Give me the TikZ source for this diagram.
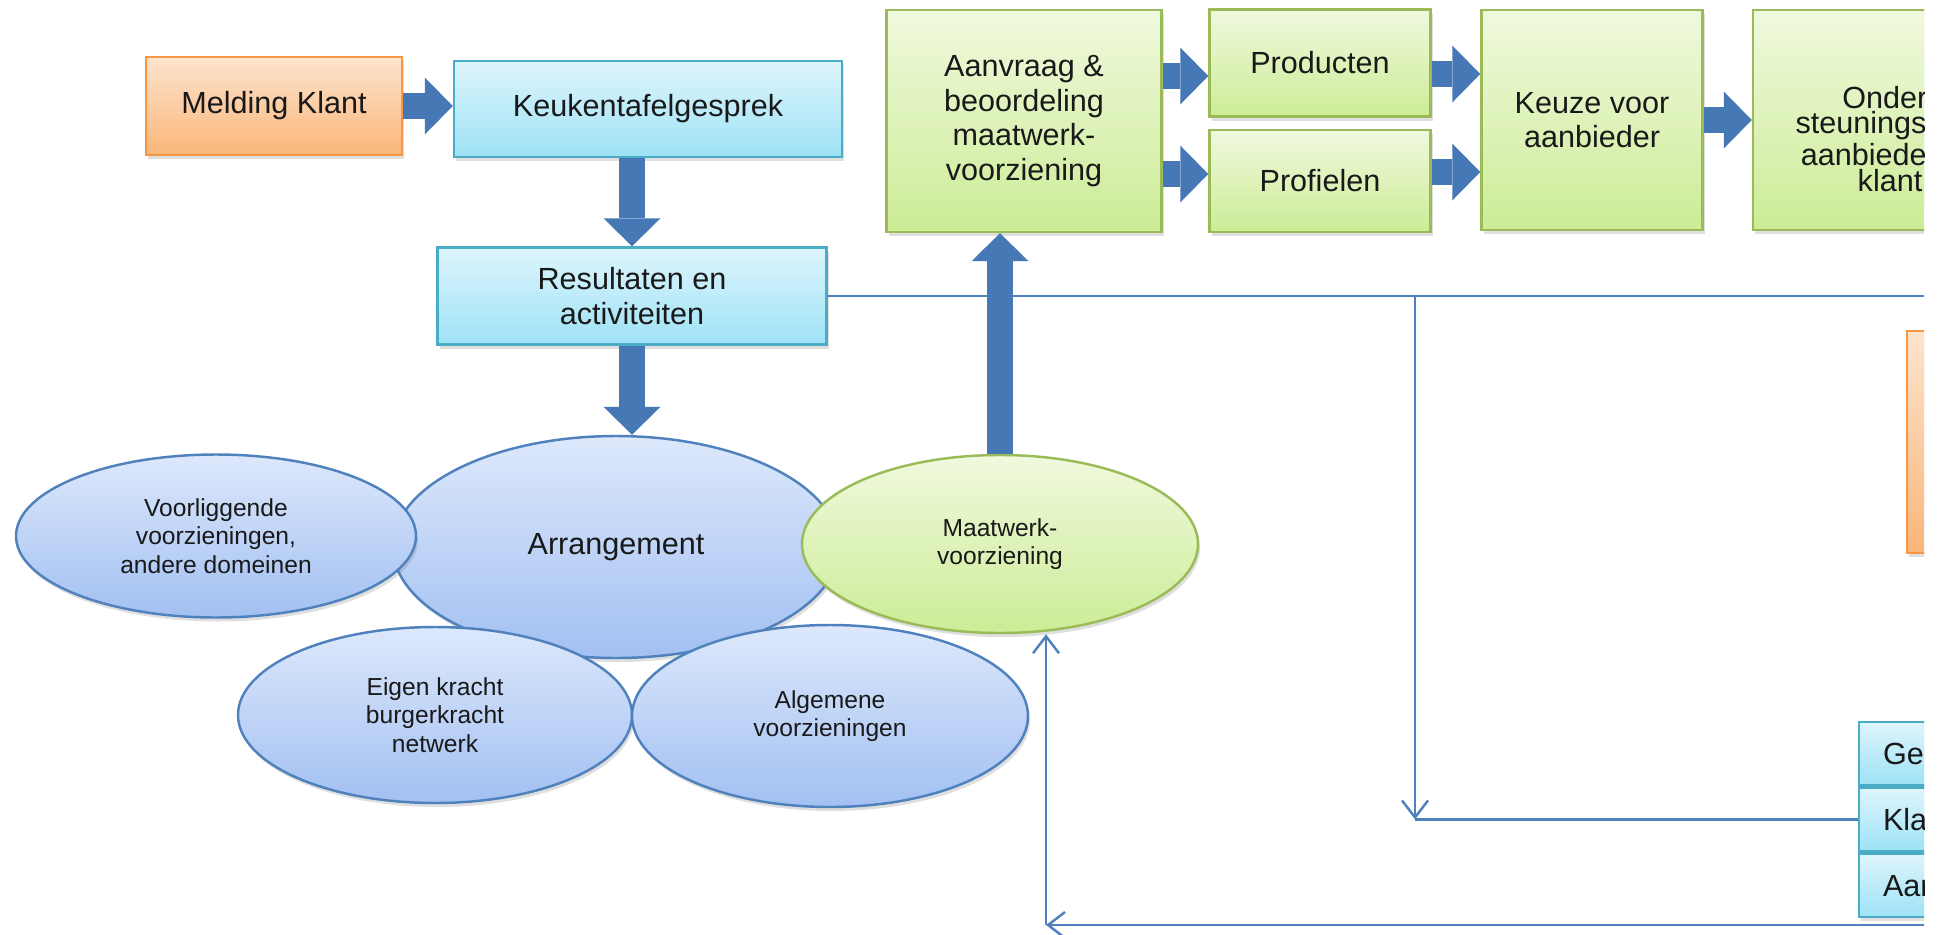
\documentclass[tikz,border=0pt]{standalone}
\usepackage{fontspec}
\setmainfont{Liberation Sans}
\usepackage{tikz}
\usetikzlibrary{
    arrows.meta,
    positioning,
    shapes.geometric,
    shadows
}
\usepackage{xcolor}
\definecolor{orangeline}{RGB}{247,150,70}
\definecolor{orangetop}{RGB}{253,228,205}
\definecolor{orangebot}{RGB}{250,182,122}
\definecolor{cyanline}{RGB}{75,172,198}
\definecolor{cyantop}{RGB}{222,245,252}
\definecolor{cyanbot}{RGB}{158,226,246}
\definecolor{greenline}{RGB}{155,187,89}
\definecolor{greentop}{RGB}{240,249,222}
\definecolor{greenbot}{RGB}{204,236,150}
\definecolor{blueline}{RGB}{79,129,189}
\definecolor{bluetop}{RGB}{221,232,251}
\definecolor{bluebot}{RGB}{162,192,242}
\definecolor{arrowblue}{RGB}{70,120,182}
\definecolor{textdark}{RGB}{25,25,25}

\begin{document}
\begin{tikzpicture}[
    x=1cm, y=1cm,
    font=\fontsize{8.7}{9.8}\selectfont,
    boxshadow/.style={drop shadow={opacity=0.25, shadow xshift=0.02cm, shadow yshift=-0.04cm}},
    box/.style={rectangle, draw, line width=0.7pt, align=center, text=textdark, inner sep=0pt, boxshadow},
    orangebox/.style={box, draw=orangeline, top color=orangetop, bottom color=orangebot},
    cyanbox/.style={box, draw=cyanline, top color=cyantop, bottom color=cyanbot},
    greenbox/.style={box, draw=greenline, top color=greentop, bottom color=greenbot},
    blob/.style={ellipse, draw=blueline, line width=0.7pt, top color=bluetop, bottom color=bluebot, align=center, inner sep=0pt, text=textdark, boxshadow, font=\fontsize{7}{8.1}\selectfont},
    greenblob/.style={blob, draw=greenline, top color=greentop, bottom color=greenbot},
    blockarrow/.style={draw=arrowblue, line width=0.26cm, -{Triangle[length=0.28cm, width=0.57cm, line width=0pt]}},
    flow/.style={draw=blueline, line width=0.7pt},
    flowarrow/.style={flow, -{Straight Barb[length=0.17cm, width=0.26cm]}}
]

\useasboundingbox (0,0) rectangle (19.45, 9.34);
\clip (0,0) rectangle (19.24, 9.34);

% === INTAKE (left) ===
\node[orangebox, minimum width=2.56cm, minimum height=0.98cm] (melding) at (2.74, 8.28) {Melding Klant};
\node[cyanbox, minimum width=3.88cm, minimum height=0.96cm] (keuken) at (6.48, 8.25) {Keukentafelgesprek};
\node[cyanbox, minimum width=3.89cm, minimum height=0.97cm] (resultaten) at (6.32, 6.38) {Resultaten en\\activiteiten};

% === MAATWERK CHAIN (top) ===
\node[greenbox, minimum width=2.75cm, minimum height=2.22cm] (aanvraag) at (10.24, 8.13) {Aanvraag \&\\beoordeling\\maatwerk-\\voorziening};
\node[greenbox, minimum width=2.21cm, minimum height=1.07cm] (producten) at (13.20, 8.71) {Producten};
\node[greenbox, minimum width=2.21cm, minimum height=1.02cm] (profielen) at (13.20, 7.53) {Profielen};
\node[greenbox, minimum width=2.21cm, minimum height=2.20cm] (keuze) at (15.92, 8.14) {Keuze voor\\aanbieder};
\node[greenbox, minimum width=2.68cm, minimum height=2.20cm] (onder) at (18.87, 8.14) {};
\node[font=\fontsize{8.7}{7.3}\selectfont, align=center, text=textdark] (ondertekst) at (18.90, 7.95) {Onder-\\steuningsplan\\aanbieder en\\klant};

% === RIGHT EDGE (cut off) ===
\node[orangebox, minimum width=2.0cm, minimum height=2.22cm] (oranjeblok) at (20.07, 4.92) {};
\node[cyanbox, minimum width=2.0cm, minimum height=0.635cm, text width=1.52cm, align=left] (gemeente) at (19.59, 1.805) {Gemeente};
\node[cyanbox, minimum width=2.0cm, minimum height=0.635cm, text width=1.52cm, align=left, below=0pt of gemeente] (klant) {Klant};
\node[cyanbox, minimum width=2.0cm, minimum height=0.635cm, text width=1.52cm, align=left, below=0pt of klant] (aanbieder) {Aanbieder};

% === ARRANGEMENT (ellipses) ===
\node[blob, minimum width=4.46cm, minimum height=2.22cm, font=\fontsize{8.7}{9.8}\selectfont] (arrangement) at (6.16, 3.87) {Arrangement};
\node[blob, minimum width=4.00cm, minimum height=1.63cm] (voorliggend) at (2.16, 3.98) {Voorliggende\\voorzieningen,\\andere domeinen};
\node[greenblob, minimum width=3.96cm, minimum height=1.78cm] (maatwerk) at (10.00, 3.90) {Maatwerk-\\voorziening};
\node[blob, minimum width=3.94cm, minimum height=1.76cm] (eigenkracht) at (4.35, 2.19) {Eigen kracht\\burgerkracht\\netwerk};
\node[blob, minimum width=3.96cm, minimum height=1.82cm] (algemeen) at (8.30, 2.18) {Algemene\\voorzieningen};

% Feedback lines
\coordinate (splits) at (14.15, 6.38);
\coordinate (knik) at (10.46, 0.09);
\coordinate (rechts) at (19.6, 0.09);
\draw[flow] (resultaten.east) -- (resultaten.east -| rechts);
\draw[flowarrow] (splits) -- (splits |- klant.west);
\draw[flow] (splits |- klant.west) -- (klant.west);
\draw[flowarrow] (rechts) -- (knik);
\draw[flowarrow] (knik) -- (knik |- maatwerk.south);

% Block arrows
\draw[blockarrow] (melding.east) -- (melding.east -| keuken.west);
\draw[blockarrow] (resultaten.north |- keuken.south) -- (resultaten.north);
\draw[blockarrow] (resultaten.south) -- (resultaten.south |- arrangement.north);
\draw[blockarrow] (maatwerk.north) -- (maatwerk.north |- aanvraag.south);
\draw[blockarrow] ([yshift=-0.13cm]aanvraag.east |- producten.west) -- ([yshift=-0.13cm]producten.west);
\draw[blockarrow] ([yshift=0.07cm]aanvraag.east |- profielen.west) -- ([yshift=0.07cm]profielen.west);
\draw[blockarrow] ([yshift=-0.11cm]producten.east) -- ([yshift=-0.11cm]producten.east -| keuze.west);
\draw[blockarrow] ([yshift=0.09cm]profielen.east) -- ([yshift=0.09cm]profielen.east -| keuze.west);
\draw[blockarrow] (keuze.east) -- (onder.west);

\end{tikzpicture}
\end{document}
